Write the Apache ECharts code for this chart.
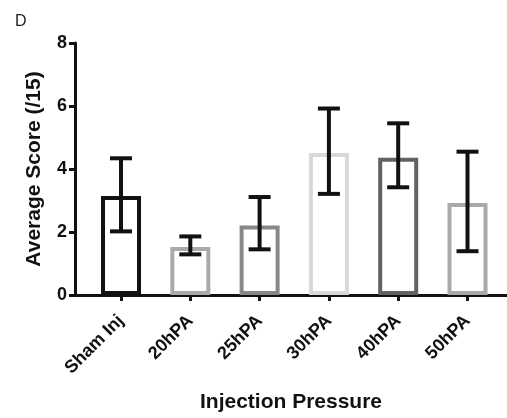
<!DOCTYPE html>
<html>
<head>
<meta charset="utf-8">
<script src="https://cdn.jsdelivr.net/npm/echarts@6/dist/echarts.min.js"></script>
<style>
  html, body { margin: 0; padding: 0; background: #fff; }
  #chart { width: 507px; height: 418px; }
</style>
</head>
<body>
<div id="chart"></div>
<script>
// data
const categories = ["Sham Inj", "20hPA", "25hPA", "30hPA", "40hPA", "50hPA"];
const means = [3.14, 1.52, 2.21, 4.51, 4.36, 2.92];
const errLow = [2.02, 1.29, 1.45, 3.21, 3.42, 1.39];
const errHigh = [4.34, 1.86, 3.11, 5.92, 5.45, 4.55];
const barColors = ["#111111", "#aaaaaa", "#888888", "#d9d9d9", "#626262", "#a9a9a9"];
const yTicks = [0, 2, 4, 6, 8];

const FONT = "Liberation Sans";
const catIdx = categories.map((c, i) => i);

const chart = echarts.init(document.getElementById("chart"));

const option = {
  backgroundColor: "#fff",
  animation: false,
  graphic: [
    {
      type: "text",
      left: 15,
      top: 14,
      style: { text: "D", font: "16px " + FONT, fill: "#222" },
    },
  ],
  grid: { left: 75, right: 0, top: 43, bottom: 121, containLabel: false },
  xAxis: {
    type: "value",
    min: -0.664,
    max: 5.57,
    name: "Injection Pressure",
    nameLocation: "middle",
    nameGap: 97,
    nameTextStyle: { fontFamily: FONT, fontWeight: "bold", fontSize: 21, color: "#111" },
    axisLine: { show: true, onZero: false, lineStyle: { color: "#111", width: 3 } },
    axisTick: { show: true, customValues: catIdx, length: 6, lineStyle: { color: "#111", width: 3 } },
    axisLabel: {
      customValues: catIdx,
      formatter: (v) => categories[Math.round(v)],
      rotate: 45,
      margin: 23,
      fontFamily: FONT,
      fontWeight: "bold",
      fontSize: 18,
      color: "#111",
    },
    splitLine: { show: false },
  },
  yAxis: {
    type: "value",
    min: yTicks[0],
    max: yTicks[yTicks.length - 1],
    interval: 2,
    name: "Average Score (/15)",
    nameLocation: "middle",
    nameGap: 30,
    nameTextStyle: { fontFamily: FONT, fontWeight: "bold", fontSize: 21, color: "#111" },
    axisLine: { show: true, onZero: false, lineStyle: { color: "#111", width: 3 } },
    axisTick: { show: true, length: 6, lineStyle: { color: "#111", width: 3 } },
    axisLabel: { margin: 8, fontFamily: FONT, fontWeight: "bold", fontSize: 18, color: "#111" },
    splitLine: { show: false },
  },
  series: [
    {
      type: "bar",
      barWidth: 40,
      data: means.map((v, i) => ({
        value: [i, v],
        itemStyle: { color: "rgba(255,255,255,0)", borderColor: barColors[i], borderWidth: 4 },
      })),
      z: 2,
    },
    {
      type: "custom",
      z: 3,
      data: catIdx.map((i) => [i, errLow[i], errHigh[i]]),
      renderItem: function (params, api) {
        const lo = api.coord([api.value(0), api.value(1)]);
        const hi = api.coord([api.value(0), api.value(2)]);
        const half = 11;
        const st = { stroke: "#111", lineWidth: 4 };
        return {
          type: "group",
          children: [
            { type: "line", shape: { x1: lo[0], y1: lo[1], x2: hi[0], y2: hi[1] }, style: st },
            { type: "line", shape: { x1: hi[0] - half, y1: hi[1], x2: hi[0] + half, y2: hi[1] }, style: st },
            { type: "line", shape: { x1: lo[0] - half, y1: lo[1], x2: lo[0] + half, y2: lo[1] }, style: st },
          ],
        };
      },
    },
  ],
};

chart.setOption(option);
</script>
</body>
</html>
